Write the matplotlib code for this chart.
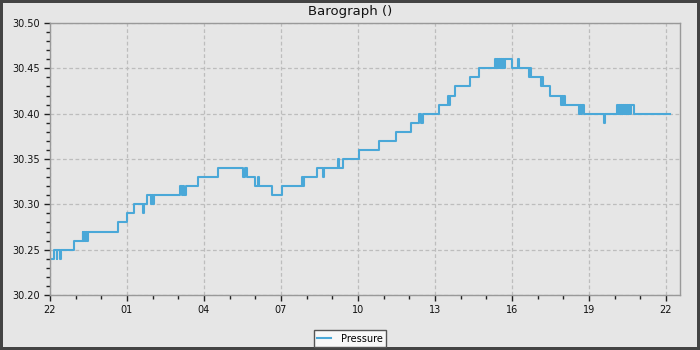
import matplotlib
matplotlib.use("Agg")
import matplotlib.pyplot as plt
from matplotlib.ticker import MultipleLocator, FixedLocator, FixedFormatter

# hours since 22:00 of the start day
times = [0.07, 0.17, 0.26, 0.29, 0.40, 0.43, 0.935, 1.27, 1.30, 1.33, 1.37, 1.40, 1.44, 1.48,
         2.66, 2.99, 3.26, 3.63, 3.67, 3.78, 3.94, 3.98, 4.01, 4.05, 5.06, 5.14, 5.18, 5.22,
         5.30, 5.78, 6.53, 7.53, 7.60, 7.69, 8.00, 8.09, 8.14, 8.64, 9.03, 9.82, 9.86, 9.90,
         10.41, 10.64, 10.67, 11.21, 11.26, 11.42, 12.04, 12.83, 13.48, 14.08, 14.38, 14.45,
         14.52, 15.17, 15.52, 15.56, 15.60, 15.78, 16.36, 16.70, 17.34, 17.38, 17.42, 17.46,
         17.50, 17.54, 17.58, 17.62, 17.66, 17.70, 17.75, 17.99, 18.25, 18.29, 18.66, 18.70,
         18.74, 19.12, 19.16, 19.20, 19.48, 19.90, 19.94, 19.98, 20.02, 20.06, 20.62, 20.66,
         20.70, 20.74, 20.80, 21.58, 21.62, 22.08, 22.12, 22.16, 22.20, 22.24, 22.28, 22.32,
         22.36, 22.42, 22.46, 22.50, 22.54, 22.58, 22.62, 22.66, 22.70, 22.74, 24.16]
pressure = [30.24, 30.25, 30.24, 30.25, 30.24, 30.25, 30.26, 30.27, 30.26, 30.27, 30.26, 30.27, 30.26, 30.27,
            30.28, 30.29, 30.30, 30.29, 30.30, 30.31, 30.30, 30.31, 30.30, 30.31, 30.32, 30.31, 30.32, 30.31,
            30.32, 30.33, 30.34, 30.33, 30.34, 30.33, 30.32, 30.33, 30.32, 30.31, 30.32, 30.33, 30.32, 30.33,
            30.34, 30.33, 30.34, 30.35, 30.34, 30.35, 30.36, 30.37, 30.38, 30.39, 30.40, 30.39,
            30.40, 30.41, 30.42, 30.41, 30.42, 30.43, 30.44, 30.45, 30.46, 30.45, 30.46, 30.45,
            30.46, 30.45, 30.46, 30.45, 30.46, 30.45, 30.46, 30.45, 30.46, 30.45, 30.44, 30.45,
            30.44, 30.43, 30.44, 30.43, 30.42, 30.41, 30.42, 30.41, 30.42, 30.41, 30.40, 30.41,
            30.40, 30.41, 30.40, 30.39, 30.40, 30.41, 30.40, 30.41, 30.40, 30.41, 30.40, 30.41,
            30.40, 30.41, 30.40, 30.41, 30.40, 30.41, 30.40, 30.41, 30.41, 30.40, 30.40]
hour_labels = ["22", "01", "04", "07", "10", "13", "16", "19", "22"]
title = "Barograph ()"
series_name = "Pressure"

bg = "#e6e6e6"
fig = plt.figure(figsize=(7, 3.5), dpi=100, facecolor=bg, edgecolor="#444444", linewidth=3)
ax = fig.add_axes([50/700, 55/350, 630/700, 272/350])
ax.set_facecolor(bg)

line, = ax.step(times, pressure, where="post", color="#4aa8d8", lw=1.5, label=series_name)

ax.set_xlim(0, 24.55)
ax.set_ylim(30.20, 30.50)
major_x = [3 * i for i in range(len(hour_labels))]
ax.xaxis.set_major_locator(FixedLocator(major_x))
ax.xaxis.set_major_formatter(FixedFormatter(hour_labels))
ax.xaxis.set_minor_locator(MultipleLocator(1))
ax.yaxis.set_major_locator(MultipleLocator(0.05))
ax.yaxis.set_minor_locator(MultipleLocator(0.01))
ax.yaxis.set_major_formatter(matplotlib.ticker.FormatStrFormatter("%.2f"))

ax.tick_params(which="major", length=4, width=1, color="#222222", labelsize=7, labelcolor="#111111", pad=3)
ax.tick_params(which="minor", length=3, width=1, color="#222222")
ax.grid(True, which="major", ls=(0, (3, 2)), color="#bdbdbd", lw=0.9)
ax.set_axisbelow(True)
for s in ax.spines.values():
    s.set_color("#999999")
    s.set_linewidth(1)

fig.text(0.5, 1 - 11/350, title, ha="center", va="center", fontsize=9.5, color="#111111")

leg = fig.legend(handles=[line], loc="center", bbox_to_anchor=(0.5, 1 - 338.5/350),
                 fontsize=7, frameon=True, fancybox=False, handlelength=1.4,
                 borderpad=0.35, handletextpad=1.0, borderaxespad=0)
leg.get_frame().set_facecolor("#f8f8f8")
leg.get_frame().set_edgecolor("#555555")
leg.get_frame().set_alpha(1)
leg.get_frame().set_linewidth(1)

fig.savefig("out.png", dpi=100, facecolor=bg, edgecolor="#444444")
